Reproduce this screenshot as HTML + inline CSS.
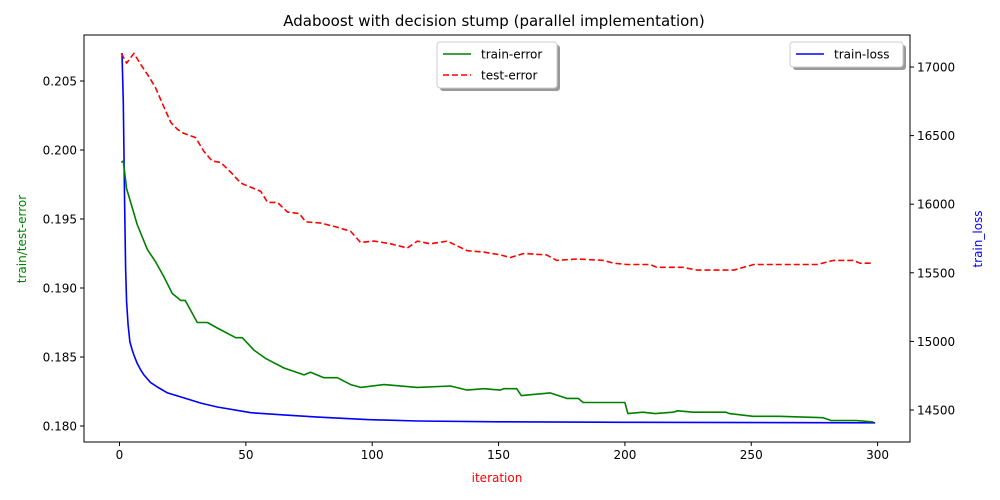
<!DOCTYPE html>
<html><head><meta charset="utf-8"><style>
body{margin:0;background:#fff;}
svg{display:block;font-family:"DejaVu Sans","Liberation Sans",sans-serif;}
</style></head><body>
<svg id="chart" width="1000" height="500" viewBox="0 0 1000 500"></svg>
<script>
const iterTrain=[0.7,1.5,2.8,7,11,14.3,17.6,20.9,24.2,26,30.8,34.8,38.7,46,48.6,53.2,57.8,65.1,73,75.6,80.9,86.2,91.5,95.4,104.7,117.9,131,137.6,144,150.6,152,157.2,159,170.4,177,181.5,183.5,196.8,200,201.2,207,212,219,221,227,240,241.4,250.7,261,278.4,281.6,291.5,298.3];
const trainErr=[0.1991,0.1992,0.1972,0.1946,0.1928,0.1919,0.1908,0.1896,0.1891,0.1891,0.1875,0.1875,0.1871,0.1864,0.1864,0.1855,0.1849,0.1842,0.1837,0.1839,0.1835,0.1835,0.1830,0.1828,0.1830,0.1828,0.1829,0.1826,0.1827,0.1826,0.1827,0.1827,0.1822,0.1824,0.1820,0.1820,0.1817,0.1817,0.1817,0.1809,0.1810,0.1809,0.1810,0.1811,0.1810,0.1810,0.1809,0.1807,0.1807,0.1806,0.1804,0.1804,0.1803];
const iterTest=[0.7,2.8,5.7,8.4,11.7,14.3,17.6,20.3,22.9,25.5,30.1,33.4,36.7,40,44,48,52,55.9,58.6,62.5,66.5,71.1,73.7,79.7,86.3,91.5,95.4,100.7,107.3,113.9,117.9,123,129.7,137.6,144.2,150.8,154.5,160,169,173,181,191.5,195.5,200.8,210,212.6,223,228.5,239,243,251,276,282.6,290.5,293,298.3];
const testErr=[0.2070,0.2063,0.2070,0.2062,0.2053,0.2045,0.2031,0.2020,0.2015,0.2012,0.2009,0.1999,0.1992,0.1991,0.1984,0.1976,0.1973,0.1970,0.1962,0.1962,0.1955,0.1954,0.1948,0.1947,0.1944,0.1941,0.1933,0.1934,0.1932,0.1929,0.1934,0.1932,0.1934,0.1927,0.1926,0.1924,0.1922,0.1925,0.1924,0.1920,0.1921,0.1920,0.1918,0.1917,0.1917,0.1915,0.1915,0.1913,0.1913,0.1913,0.1917,0.1917,0.1920,0.1920,0.1918,0.1918];
const iterLoss=[1,1.5,2,2.4,2.8,3.4,4.1,5,5.7,7,8.4,9.7,12.3,15,19,25.5,32.2,38.7,52,65,78.4,98,118,150,200,299];
const trainLoss=[17102,16745,16016,15535,15287,15120,14996,14940,14901,14840,14792,14755,14700,14668,14625,14588,14550,14522,14480,14464,14448,14430,14420,14414,14410,14407];
const xTicks=[0,50,100,150,200,250,300];
const yLeftTicks=[0.180,0.185,0.190,0.195,0.200,0.205];
const yRightTicks=[14500,15000,15500,16000,16500,17000];

const L=84,R=910,T=35,B=442;
const X=v=>119.5+v*2.527;
const YL=v=>426-(v-0.180)*13800;
const YR=v=>410-(v-14500)*0.1372;
const svg=document.getElementById('chart');
const NS='http://www.w3.org/2000/svg';
function mk(tag,attrs,parent){const e=document.createElementNS(NS,tag);for(const k in attrs)e.setAttribute(k,attrs[k]);(parent||svg).appendChild(e);return e;}
function txt(s,attrs){const e=mk('text',attrs);e.textContent=s;return e;}

let t=txt('Adaboost with decision stump (parallel implementation)',{x:494,y:26,'font-size':15,'text-anchor':'middle',fill:'#000'});



function line(xs,ys,fy,color,dash,name){
  const pts=xs.map((v,i)=>X(v).toFixed(1)+','+fy(ys[i]).toFixed(1)).join(' ');
  const p=mk('polyline',{points:pts,fill:'none',stroke:color,'stroke-width':1.6,'stroke-linejoin':'round'});
  if(dash)p.setAttribute('stroke-dasharray',dash);
  
  
}
line(iterLoss,trainLoss,YR,'#0000ff',null,'train-loss-line');
line(iterTrain,trainErr,YL,'#008000',null,'train-error-line');
line(iterTest,testErr,YL,'#ff0000','6,3','test-error-line');

const frame=mk('rect',{x:L,y:T,width:R-L,height:B-T,fill:'none',stroke:'#000','stroke-width':1});



xTicks.forEach(v=>{
  mk('line',{x1:X(v),x2:X(v),y1:B,y2:B+4,stroke:'#000'});
  const e=txt(String(v),{x:X(v),y:B+17,'font-size':12,'text-anchor':'middle'});
  
  
});
yLeftTicks.forEach(v=>{
  mk('line',{x1:L-4,x2:L,y1:YL(v),y2:YL(v),stroke:'#000'});
  const e=txt(v.toFixed(3),{x:L-7,y:YL(v)+4.5,'font-size':12,'text-anchor':'end'});
  
  
});
yRightTicks.forEach(v=>{
  mk('line',{x1:R,x2:R+4,y1:YR(v),y2:YR(v),stroke:'#000'});
  const e=txt(String(v),{x:R+7,y:YR(v)+4.5,'font-size':12,'text-anchor':'start'});
  
  
});
t=txt('iteration',{x:497,y:482,'font-size':12,'text-anchor':'middle',fill:'#ff0000'});


t=txt('train/test-error',{x:0,y:0,'font-size':12,'text-anchor':'middle',fill:'#008000',transform:'translate(26,239) rotate(-90)'});


t=txt('train_loss',{x:0,y:0,'font-size':12,'text-anchor':'middle',fill:'#0000ff',transform:'translate(982,239) rotate(-90)'});



function legend(x,y,w,h,entries,name){
  const g=mk('g',{});
  
  
  mk('rect',{x:x+3,y:y+3,width:w,height:h,rx:3,fill:'#999'},g);
  mk('rect',{x:x,y:y,width:w,height:h,rx:3,fill:'#fff',stroke:'#ccc'},g);
  entries.forEach((en,i)=>{
    const yy=y+12+i*21;
    const l=mk('line',{x1:x+6,x2:x+34,y1:yy,y2:yy,stroke:en[1],'stroke-width':1.6},g);
    if(en[2])l.setAttribute('stroke-dasharray','6,3');
    const tt=mk('text',{x:x+44,y:yy+4.5,'font-size':12},g);tt.textContent=en[0];
  });
}
legend(437,42,120,46,[['train-error','#008000'],['test-error','#ff0000',true]],'legend-errors');
legend(790,42,113,25,[['train-loss','#0000ff']],'legend-loss');
</script>
</body></html>
